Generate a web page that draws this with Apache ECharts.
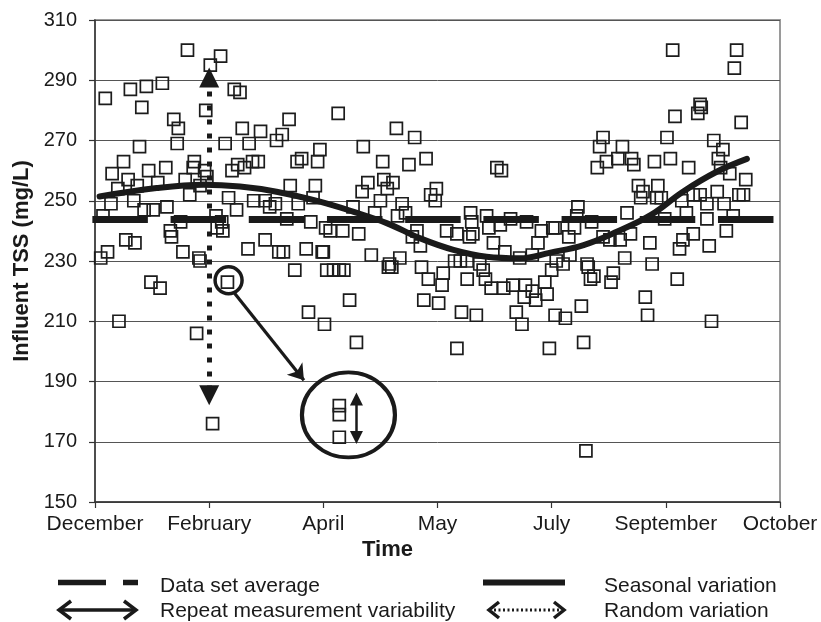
<!DOCTYPE html>
<html><head><meta charset="utf-8">
<script src="https://cdn.jsdelivr.net/npm/echarts@6/dist/echarts.min.js"></script>
<style>html,body{margin:0;padding:0;background:#fff}#c{width:821px;height:622px}</style>
</head><body><div id="c"></div>
<script>
// ---- data ----
const monthLabels = ['December','February','April','May','July','September','October'];
const yMin = 150, yMax = 310, yStep = 20;
const xMin = 0, xMax = 600, xStep = 100;

// influent TSS samples: [time, mg/L]
const samples = [
[81,300],[110,298],[101,295],[9,284],[31,287],[45,288],[59,289],[41,281],[122,287],[127,286],[97,280],[69,277],[73,274],[39,268],[72,269],[114,269],[129,274],[145,273],[135,269],[164,272],[159,270],[170,277],[197,267],[25,263],[15,259],[62,261],[47,260],[87,263],[86,261],[96,260],[98,258],[120,260],[125,262],[131,261],[138,263],[143,263],[177,263],[181,264],[195,263],[20,254],[29,257],[37,255],[55,256],[79,257],[171,255],[193,255],[83,252],[92,255],[117,251],[14,249],[34,250],[43,247],[51,247],[63,248],[124,247],[139,250],[149,250],[153,248],[158,249],[178,249],[191,251],[7,245],[106,245],[111,243],[75,243],[168,244],[189,243],[66,240],[67,238],[107,241],[112,240],[27,237],[35,236],[77,233],[134,234],[149,237],[161,233],[165,233],[185,234],[199,233],[5,231],[11,233],[91,231],[92,230],[202,241],[49,223],[57,221],[21,210],[89,206],[103,176],[116,223],[175,227],[187,213],[201,209],
[213,279],[264,274],[280,271],[235,268],[252,263],[275,262],[290,264],[352,261],[356,260],[239,256],[234,253],[253,257],[261,256],[256,254],[299,254],[294,252],[298,250],[250,250],[226,248],[245,246],[269,249],[272,246],[265,245],[329,246],[343,245],[330,243],[364,244],[378,243],[206,240],[217,240],[231,239],[308,240],[317,239],[331,239],[328,238],[282,240],[278,238],[285,235],[349,236],[345,241],[355,242],[401,241],[391,240],[388,236],[359,233],[372,231],[383,232],[242,232],[267,231],[258,229],[200,233],[315,230],[320,230],[326,230],[337,229],[340,227],[203,227],[209,227],[214,227],[218,227],[257,228],[260,228],[223,217],[229,203],[286,228],[292,224],[305,226],[304,222],[326,224],[342,224],[288,217],[301,216],[321,213],[334,212],[317,201],[347,221],[358,221],[366,222],[377,222],[376,218],[383,220],[386,217],[394,223],[396,219],[400,227],[369,213],[374,209],[398,201],[403,212],[214,182],[214,179],[214,171.5],
[404,230],[410,229],[416,232],[432,228],[437,225],[434,224],[454,226],[452,223],[464,231],[488,229],[510,224],[482,218],[484,212],[426,215],[412,211],[428,203],[540,210],[430,167],[506,300],[562,300],[560,294],[530,282],[531,281],[528,279],[508,278],[566,276],[445,271],[442,268],[462,268],[501,271],[542,270],[550,267],[440,261],[448,263],[458,264],[470,264],[472,262],[490,263],[504,264],[520,261],[546,264],[548,261],[556,259],[570,257],[476,255],[480,253],[478,251],[493,255],[492,251],[496,251],[524,252],[514,250],[545,253],[564,252],[568,252],[536,249],[551,249],[530,252],[423,248],[422,245],[466,246],[403,241],[415,238],[420,241],[435,243],[445,238],[451,237],[460,237],[469,239],[486,236],[499,244],[518,246],[536,244],[524,239],[515,237],[512,234],[538,235],[553,240],[559,245],[431,229]
];

// seasonal variation curve
const seasonX = [4,54,95,127,159,197,226,256,285,314,343,372,399,428,457,487,515,545,571];
const seasonY = [251.4,254.2,255.3,254.7,253,249.7,246.4,242.5,237.5,233.7,231.4,230.9,232.8,235.3,239.7,245.3,253,259.7,263.9];

// data set average
const averageValue = 243.8;
const averageSpan = [-2.3, 597];

// annotations (data coordinates)
const randomArrow = [[100, 290.9], [100, 185.4]];
const smallCircle = [117, 223.6];
const pointerArrow = [[121.2, 219.8], [183, 190.4]];
const bigCircle = [222, 178.9];
const repeatArrow = [[229, 184.2], [229, 171.4]];

// legend texts
const legendTexts = ['Data set average', 'Seasonal variation', 'Repeat measurement variability', 'Random variation'];

// ---- chart ----
const FONT = "'Liberation Sans', Arial, Helvetica, sans-serif";
const INK = '#1a1a1a';
const chart = echarts.init(document.getElementById('c'), null, {renderer: 'canvas'});

const option = {
  animation: false,
  backgroundColor: '#fff',
  grid: {left: 95, right: 41, top: 20, bottom: 120, show: true, borderColor: '#9a9a9a', borderWidth: 2, backgroundColor: 'transparent'},
  xAxis: {
    type: 'value', min: xMin, max: xMax, interval: xStep,
    axisLine: {show: true, onZero: false, lineStyle: {color: '#333', width: 1.5}},
    axisTick: {show: true, inside: false, length: 6, lineStyle: {color: '#333', width: 1.2}},
    axisLabel: {formatter: v => monthLabels[Math.round(v / xStep)] || '', fontSize: 21, color: INK, margin: 12, fontFamily: FONT},
    splitLine: {show: false}
  },
  yAxis: {
    type: 'value', min: yMin, max: yMax, interval: yStep,
    name: 'Influent TSS (mg/L)', nameLocation: 'middle', nameGap: 62,
    nameTextStyle: {fontSize: 22, fontWeight: 'bold', color: INK, fontFamily: FONT},
    axisLine: {show: true, lineStyle: {color: '#333', width: 1.5}},
    axisTick: {show: true, inside: false, length: 6, lineStyle: {color: '#333', width: 1.2}},
    axisLabel: {fontSize: 20, color: INK, margin: 18, fontFamily: FONT},
    splitLine: {show: true, lineStyle: {color: '#555', width: 1}}
  },
  series: [
    {
      type: 'scatter', data: samples, symbol: 'rect', symbolSize: 12, silent: true, z: 2,
      itemStyle: {color: 'rgba(0,0,0,0)', borderColor: '#1c1c1c', borderWidth: 1.7, opacity: 1}
    },
    {
      type: 'line', data: averageSpan.map(x => [x, averageValue]), symbol: 'none', clip: false, silent: true, z: 3,
      lineStyle: {color: INK, width: 7, type: [55.5, 22.7], cap: 'butt', opacity: 1}
    },
    {
      type: 'line', data: seasonX.map((x, i) => [x, seasonY[i]]), symbol: 'none', smooth: 0.4, silent: true, z: 4,
      lineStyle: {color: INK, width: 6, cap: 'round', opacity: 1}
    },
    {
      type: 'scatter', data: [smallCircle], symbol: 'circle', symbolSize: 27, silent: true, z: 5,
      itemStyle: {color: 'rgba(0,0,0,0)', borderColor: INK, borderWidth: 3.5, opacity: 1}
    },
    {
      type: 'scatter', data: [bigCircle], symbol: 'circle', symbolSize: [93, 85], silent: true, z: 5,
      itemStyle: {color: 'rgba(0,0,0,0)', borderColor: INK, borderWidth: 4, opacity: 1}
    },
    {
      type: 'lines', coordinateSystem: 'cartesian2d', silent: true, z: 6,
      symbol: ['triangle', 'triangle'], symbolSize: 20,
      lineStyle: {color: INK, width: 5, type: [5, 9], cap: 'butt', opacity: 1},
      data: [{coords: randomArrow}]
    },
    {
      type: 'lines', coordinateSystem: 'cartesian2d', silent: true, z: 6,
      symbol: ['none', 'arrow'], symbolSize: 15,
      lineStyle: {color: INK, width: 3.2, opacity: 1},
      data: [{coords: pointerArrow}]
    },
    {
      type: 'lines', coordinateSystem: 'cartesian2d', silent: true, z: 6,
      symbol: ['triangle', 'triangle'], symbolSize: 13,
      lineStyle: {color: INK, width: 2.5, opacity: 1},
      data: [{coords: repeatArrow}]
    }
  ],
  graphic: [
    {type: 'text', x: 387.5, y: 550, style: {text: 'Time', fill: INK, fontSize: 22, fontWeight: 'bold', fontFamily: FONT, align: 'center', verticalAlign: 'middle'}},
    // legend row 1
    {type: 'line', shape: {x1: 58, y1: 582.5, x2: 106, y2: 582.5}, style: {stroke: INK, lineWidth: 5.5}},
    {type: 'line', shape: {x1: 123, y1: 582.5, x2: 138, y2: 582.5}, style: {stroke: INK, lineWidth: 5.5}},
    {type: 'text', x: 160, y: 586, style: {text: legendTexts[0], fill: INK, fontSize: 21, fontFamily: FONT, align: 'left', verticalAlign: 'middle'}},
    {type: 'line', shape: {x1: 483, y1: 582.5, x2: 565, y2: 582.5}, style: {stroke: INK, lineWidth: 6}},
    {type: 'text', x: 604, y: 586, style: {text: legendTexts[1], fill: INK, fontSize: 21, fontFamily: FONT, align: 'left', verticalAlign: 'middle'}},
    // legend row 2
    {type: 'line', shape: {x1: 59, y1: 610, x2: 136, y2: 610}, style: {stroke: INK, lineWidth: 3.5}},
    {type: 'polyline', shape: {points: [[71, 601], [59, 610], [71, 619]]}, style: {stroke: INK, lineWidth: 3.5, fill: null}},
    {type: 'polyline', shape: {points: [[124, 601], [136, 610], [124, 619]]}, style: {stroke: INK, lineWidth: 3.5, fill: null}},
    {type: 'text', x: 160, y: 611, style: {text: legendTexts[2], fill: INK, fontSize: 21, fontFamily: FONT, align: 'left', verticalAlign: 'middle'}},
    {type: 'line', shape: {x1: 494, y1: 610, x2: 559, y2: 610}, style: {stroke: INK, lineWidth: 3, lineDash: [2, 2.5]}},
    {type: 'polyline', shape: {points: [[499, 602], [489, 610], [499, 618]]}, style: {stroke: INK, lineWidth: 3.5, fill: null}},
    {type: 'polyline', shape: {points: [[554, 602], [564, 610], [554, 618]]}, style: {stroke: INK, lineWidth: 3.5, fill: null}},
    {type: 'text', x: 604, y: 611, style: {text: legendTexts[3], fill: INK, fontSize: 21, fontFamily: FONT, align: 'left', verticalAlign: 'middle'}}
  ]
};
chart.setOption(option);
</script>
</body></html>
